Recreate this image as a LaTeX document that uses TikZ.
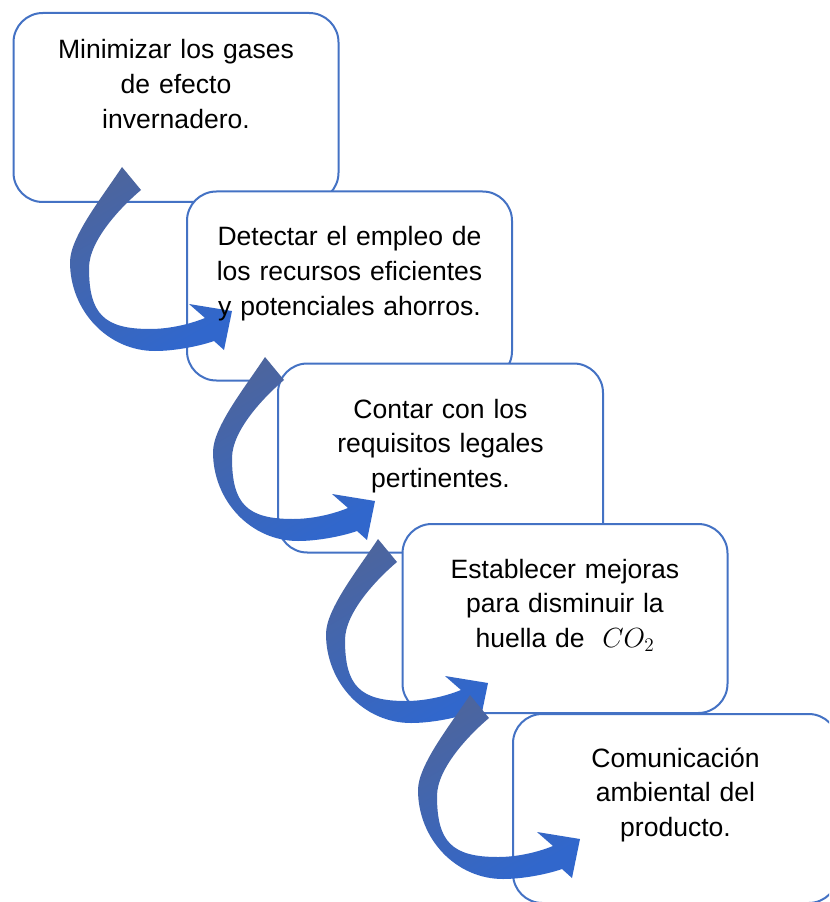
\documentclass[tikz,border=0pt]{standalone}
\usepackage{fontspec}
\setmainfont{Liberation Sans}
\definecolor{boxblue}{RGB}{68,114,196}
\definecolor{arrdark}{RGB}{76,101,158}
\definecolor{arrlight}{RGB}{49,103,204}
\tikzset{
  stepbox/.style={draw=boxblue, line width=1.5pt, fill=white, rounded corners=22pt,
    minimum width=243.75pt, minimum height=141.75pt, inner sep=0pt},
  txt/.style={align=center, text width=300pt, inner sep=0pt, anchor=base,
    font=\fontsize{19.9pt}{25.9pt}\selectfont},
  curvarrow/.pic={
    \shade[top color=arrdark, bottom color=arrlight, shading angle=30]
      (122,167) .. controls (103,196) and (70,237) .. (70,262)
      .. controls (70,311) and (108,351) .. (155,351)
      .. controls (175,351) and (200,346) .. (214,341)
      -- (224,350) -- (232,311) -- (189,304) -- (205,318)
      .. controls (185,326) and (165,329) .. (150,329)
      .. controls (104,329) and (89,314) .. (89,268)
      .. controls (89,240) and (122,206) .. (141,190)
      -- cycle;
  }
}
\begin{document}
\begin{tikzpicture}[x=0.75pt,y=-0.75pt]
\useasboundingbox (0,0) rectangle (829,902);
\clip (0,0) rectangle (829,902);
% boxes
\node[stepbox] (b1) at (176,107.5) {};
\node[stepbox] (b2) at (349.5,286) {};
\node[stepbox] (b3) at (440.5,458) {};
\node[stepbox] (b4) at (565,618.5) {};
\node[stepbox] (b5) at (675.5,808.5) {};
% arrows
\pic (a1) at (0,0) {curvarrow};
\pic (a2) at (143,190) {curvarrow};
\pic (a3) at (256,372) {curvarrow};
\pic (a4) at (348,528) {curvarrow};
% texts
\node[txt] (t1) at (176,59) {Minimizar los gases\\de efecto\\invernadero.};
\node[txt] (t2) at (349.5,246) {Detectar el empleo de\\los recursos eficientes\\y potenciales ahorros.};
\node[txt] (t3) at (440.5,418) {Contar con los\\requisitos legales\\pertinentes.};
\node[txt] (t4) at (565,578) {Establecer mejoras\\para disminuir la\\huella de\ \ $CO_2$};
\node[txt] (t5) at (675.5,767) {Comunicación\\ambiental del\\producto.};
\end{tikzpicture}
\end{document}
